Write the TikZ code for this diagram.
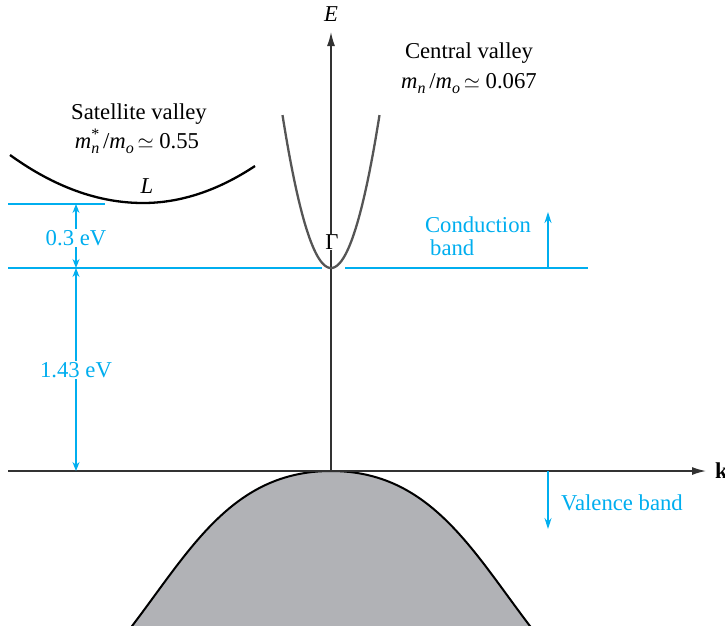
\documentclass[tikz,border=0pt]{standalone}
\usepackage{fontspec}
\setmainfont{Liberation Serif}
\usetikzlibrary{arrows.meta}
\definecolor{cy}{RGB}{0,174,239}
\definecolor{vb}{RGB}{177,178,182}
\definecolor{cv}{RGB}{85,85,85}
\definecolor{ax}{RGB}{50,50,50}
\newcommand\mysub[1]{\smash{\raisebox{-0.45ex}{\fontsize{16}{16}\selectfont\itshape #1}}}
\newcommand\mysup[1]{\rlap{\smash{\raisebox{0.85ex}{\fontsize{16}{16}\selectfont #1}}}}
\begin{document}
\begin{tikzpicture}[x=1pt,y=-1pt,
  lbl/.style={font=\fontsize{22.7}{26}\selectfont, inner sep=1pt},
  cyl/.style={lbl, text=cy},
  level/.style={draw=cy, line width=1.2pt},
  dimarrow/.style={draw=cy, line width=1.2pt, {Stealth[length=9pt,width=7pt]}-{Stealth[length=9pt,width=7pt]}},
  onearrow/.style={draw=cy, line width=1.2pt, -{Stealth[length=11pt,width=7pt]}},
  axis/.style={draw=ax, line width=1.4pt, -{Latex[length=14pt,width=8pt]}}]
\useasboundingbox (0,0) rectangle (725,625);
% valence band
\fill[vb] (129,630) .. controls (189,552) and (231,471) .. (331,471) .. controls (431,471) and (473,552) .. (533,630) -- cycle;
\draw[black, line width=2pt] (129,630) .. controls (189,552) and (231,471) .. (331,471) .. controls (431,471) and (473,552) .. (533,630);
% coordinates
\coordinate (o) at (331,471);
\coordinate (etop) at (331,32);
\coordinate (kl) at (8,471);
\coordinate (kr) at (706,471);
\coordinate (l1a) at (8,204);
\coordinate (l1b) at (105,204);
\coordinate (l2a) at (8,268);
\coordinate (l2b) at (322,268);
\coordinate (l3a) at (345,268);
\coordinate (l3b) at (588,268);
\coordinate (d1) at (76,204);
\coordinate (d2) at (76,268);
\coordinate (d3) at (76,471);
\coordinate (cb0) at (548,268);
\coordinate (cb1) at (548,212);
\coordinate (vb0) at (548,471);
\coordinate (vb1) at (548,529);
% levels
\draw[level] (l1a) -- (l1b);
\draw[level] (l2a) -- (l2b);
\draw[level] (l3a) -- (l3b);
% axes
\draw[axis] (kl) -- (kr);
\draw[axis] (o) -- (etop);
\node[lbl, font=\fontsize{22.7}{26}\selectfont\itshape] (E) at (331,14) {E};
\node[lbl, font=\fontsize{22.7}{26}\selectfont\bfseries, anchor=west] (k) at (714,471) {k};
% central valley
\draw[cv, line width=2.3pt] plot[domain=-48.5:48.5, samples=80] ({331+\x},{268-0.065*\x*\x});
\node[lbl, fill=white] (G) at (332,242) {Γ};
% satellite valley
\draw[black, line width=2.3pt] (10,155) .. controls (54.3,187) and (98.7,203) .. (143,203) .. controls (180.3,203) and (217.7,190.7) .. (255,166);
\node[lbl, font=\fontsize{22.7}{26}\selectfont\itshape] (L) at (147,186) {L};
% labels
\node[lbl] (cvt) at (469,53) {Central valley};
\node[lbl] (cvm) at (469,81) {\textit{m}\mysub{n}\,/\textit{m}\mysub{o}\,$\simeq$ 0.067};
\node[lbl] (svt) at (139,114) {Satellite valley};
\node[lbl] (svm) at (137,141) {\textit{m}\mysup{*}\mysub{n}\,/\textit{m}\mysub{o}\,$\simeq$ 0.55};
% dimension arrows
\draw[dimarrow] (d1) -- (d2);
\draw[dimarrow] (d2) -- (d3);
\node[cyl, fill=white] (e1) at (76,238) {0.3 eV};
\node[cyl, fill=white] (e2) at (76,370) {1.43 eV};
% band arrows
\draw[onearrow] (cb0) -- (cb1);
\draw[onearrow] (vb0) -- (vb1);
\node[cyl] (cbt) at (478,225) {Conduction};
\node[cyl, anchor=west] (cbb) at (429,248) {band};
\node[cyl] (vbt) at (622,503) {Valence band};
\end{tikzpicture}
\end{document}
